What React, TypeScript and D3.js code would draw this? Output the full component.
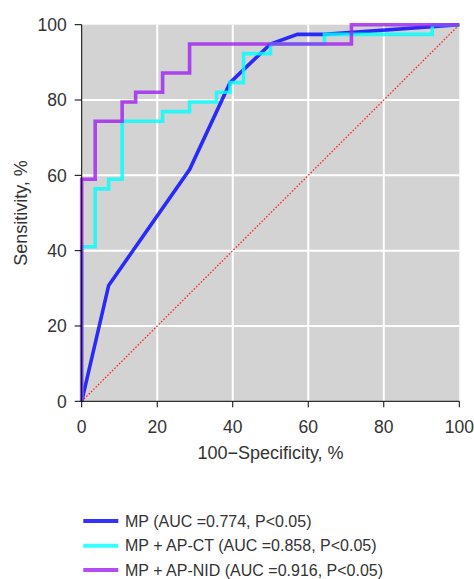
import React from "react";
import * as d3 from "d3";

const xTicks = [0, 20, 40, 60, 80, 100];
const yTicks = [0, 20, 40, 60, 80, 100];

// MP (linear ROC)
const mpFpr = [0, 7.14, 28.57, 39.29, 50, 57.14, 64.29, 100];
const mpTpr = [0, 30.77, 61.54, 84.62, 94.87, 97.44, 97.44, 100];

// MP + AP-CT (step)
const ctFpr = [0, 3.57, 7.14, 10.71, 21.43, 28.57, 35.71, 39.29, 42.86, 50, 64.29, 92.86, 100];
const ctTpr = [0, 41.03, 56.41, 58.97, 74.36, 76.92, 79.49, 82.05, 84.62, 92.31, 94.87, 97.44, 100];

// MP + AP-NID (step)
const nidFpr = [0, 3.57, 10.71, 14.29, 21.43, 28.57, 71.43, 100];
const nidTpr = [0, 58.97, 74.36, 79.49, 82.05, 87.18, 94.87, 100];

const legendLabels = [
  "MP (AUC =0.774, P<0.05)",
  "MP + AP-CT (AUC =0.858, P<0.05)",
  "MP + AP-NID (AUC =0.916, P<0.05)",
];
const colors = ["#0000ff", "#00ffff", "#a020f0"];

const W = 474;
const H = 579;
const L = 81.7, R = 459.3, T = 24.7, B = 401.3;

export default function App() {
  const x = d3.scaleLinear().domain([0, 100]).range([L, R]);
  const y = d3.scaleLinear().domain([0, 100]).range([B, T]);
  const font = "'Liberation Sans', Arial, Helvetica, sans-serif";
  const textColor = "#333";

  const toPts = (xs: number[], ys: number[]) => xs.map((v, i) => [v, ys[i]] as [number, number]);
  const linear = d3.line<[number, number]>().x(d => x(d[0])).y(d => y(d[1]));
  const step = d3
    .line<[number, number]>()
    .x(d => x(d[0]))
    .y(d => y(d[1]))
    .curve(d3.curveStepBefore);

  const series = [
    { d: linear(toPts(mpFpr, mpTpr)) || "", c: colors[0] },
    { d: step(toPts(ctFpr, ctTpr)) || "", c: colors[1] },
    { d: step(toPts(nidFpr, nidTpr)) || "", c: colors[2] },
  ];

  const legendY = [521, 545.7, 570];

  return (
    <svg
      width={W}
      height={H}
      style={{ position: "absolute", left: 0, top: 0, background: "#fff" }}
    >
      <rect x={L} y={T} width={R - L} height={B - T} fill="#d3d3d3" />
      {xTicks.slice(1, -1).map(t => (
        <line key={"gx" + t} x1={x(t)} x2={x(t)} y1={T} y2={B} stroke="#fff" strokeWidth={2} />
      ))}
      {yTicks.slice(1, -1).map(t => (
        <line key={"gy" + t} x1={L} x2={R} y1={y(t)} y2={y(t)} stroke="#fff" strokeWidth={2} />
      ))}
      <line
        x1={x(0)}
        y1={y(0)}
        x2={x(100)}
        y2={y(100)}
        stroke="#ff2020"
        strokeWidth={1.3}
        strokeDasharray="1.5,1.8"
      />
      {series.map((s, i) => (
        <path
          key={i}
          d={s.d}
          fill="none"
          stroke={s.c}
          strokeOpacity={0.8}
          strokeWidth={3.6}
          strokeLinejoin="miter"
        />
      ))}
      {/* axes */}
      <line x1={L} x2={L} y1={T} y2={B} stroke="#000" strokeWidth={1} />
      <line x1={L} x2={R} y1={B} y2={B} stroke="#000" strokeWidth={1} />
      {yTicks.map(t => (
        <g key={"yt" + t}>
          <line x1={L - 7} x2={L} y1={y(t)} y2={y(t)} stroke="#000" strokeWidth={1} />
          <text
            x={L - 15}
            y={y(t)}
            dy="0.36em"
            textAnchor="end"
            fontFamily={font}
            fontSize={17.5}
            fill={textColor}
          >
            {t}
          </text>
        </g>
      ))}
      {xTicks.map(t => (
        <g key={"xt" + t}>
          <line x1={x(t)} x2={x(t)} y1={B} y2={B + 6} stroke="#000" strokeWidth={1} />
          <text
            x={x(t)}
            y={433}
            textAnchor="middle"
            fontFamily={font}
            fontSize={17.5}
            fill={textColor}
          >
            {t}
          </text>
        </g>
      ))}
      <text
        x={(L + R) / 2}
        y={458.5}
        textAnchor="middle"
        fontFamily={font}
        fontSize={18}
        fill={textColor}
      >
        100−Specificity, %
      </text>
      <text
        transform={`translate(26.5, ${(T + B) / 2}) rotate(-90)`}
        textAnchor="middle"
        fontFamily={font}
        fontSize={18}
        fill={textColor}
      >
        Sensitivity, %
      </text>
      {legendLabels.map((lab, i) => (
        <g key={"lg" + i}>
          <line
            x1={83.3}
            x2={118.3}
            y1={legendY[i]}
            y2={legendY[i]}
            stroke={colors[i]}
            strokeOpacity={0.8}
            strokeWidth={4}
          />
          <text
            x={125}
            y={legendY[i]}
            dy="0.36em"
            fontFamily={font}
            fontSize={16}
            fill={textColor}
          >
            {lab}
          </text>
        </g>
      ))}
    </svg>
  );
}
